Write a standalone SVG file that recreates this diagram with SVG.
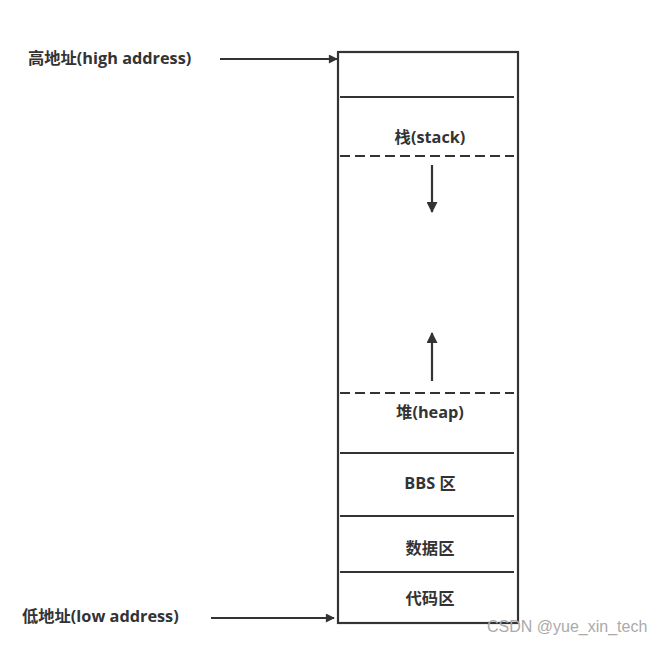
<svg xmlns="http://www.w3.org/2000/svg" width="660" height="646" viewBox="0 0 660 646">
<style>
.t{font-family:"Open Sans","Noto Sans CJK SC",sans-serif;font-size:16.3px;font-weight:bold;fill:#333}
.c{text-anchor:middle}
.s{stroke:#333;stroke-width:2.2;fill:none}
.d{stroke:#333;stroke-width:2.2;stroke-dasharray:10,5;fill:none}
</style>
<defs>
<marker id="ah" viewBox="0 0 10 10" refX="9" refY="5" markerWidth="11" markerHeight="9" markerUnits="userSpaceOnUse" orient="auto"><path d="M0,0 L10,5 L0,10 z" fill="#333"/></marker>
<marker id="ah2" viewBox="0 0 10 10" refX="9" refY="5" markerWidth="17" markerHeight="11" markerUnits="userSpaceOnUse" orient="auto"><path d="M0,0 L10,5 L0,10 z" fill="#333"/></marker>
</defs>
<rect width="660" height="646" fill="#fff"/>
<g id="memory">
<rect x="338" y="52" width="180" height="571" class="s"/>
<line x1="340" y1="97" x2="514" y2="97" class="s"/>
<line x1="340" y1="156" x2="514" y2="156" class="d"/>
<line x1="340" y1="393" x2="514" y2="393" class="d"/>
<line x1="340" y1="453" x2="514" y2="453" class="s"/>
<line x1="340" y1="516" x2="514" y2="516" class="s"/>
<line x1="340" y1="572" x2="514" y2="572" class="s"/>
</g>
<g id="stack"><text x="430" y="143" class="t c">栈(stack)</text></g>
<g id="heap"><text x="430" y="418" class="t c">堆(heap)</text></g>
<g id="bbs"><text x="430" y="489" class="t c">BBS 区</text></g>
<g id="data"><text x="430" y="554" class="t c">数据区</text></g>
<g id="code"><text x="430" y="604" class="t c">代码区</text></g>
<g id="high"><text x="28" y="64" class="t">高地址(high address)</text></g>
<g id="low"><text x="22" y="622" class="t">低地址(low address)</text></g>
<g id="connectors">
<line x1="220" y1="59" x2="337" y2="59" class="s" marker-end="url(#ah)"/>
<line x1="211" y1="618" x2="334" y2="618" class="s" marker-end="url(#ah)"/>
<line x1="432" y1="165" x2="432" y2="212" class="s" marker-end="url(#ah2)"/>
<line x1="432" y1="381" x2="432" y2="333" class="s" marker-end="url(#ah2)"/>
</g>
<text x="487" y="632" style="font-family:'Liberation Sans',sans-serif;font-size:16px;fill:#aaa">CSDN @yue_xin_tech</text>
</svg>
